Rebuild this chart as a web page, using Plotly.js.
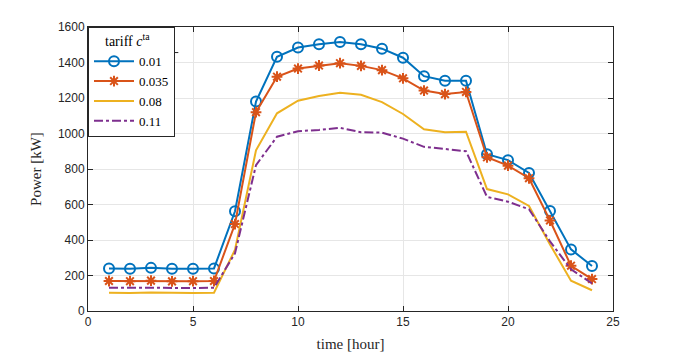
<!DOCTYPE html>
<html>
<head>
<meta charset="utf-8">
<script src="https://cdn.plot.ly/plotly-3.0.1.min.js"></script>
<style>body{margin:0;background:#fff}#grafico{width:677px;height:354px}</style>
</head>
<body>
<div id="grafico"></div>
<script>
// horas do dia
var hours = [1,2,3,4,5,6,7,8,9,10,11,12,13,14,15,16,17,18,19,20,21,22,23,24];
var tariffs = ["0.01", "0.035", "0.08", "0.11"];
// potencia [kW] para cada tarifa
var p001  = [240,238,243,238,238,240,562,1180,1432,1484,1503,1516,1503,1478,1427,1323,1297,1297,883,850,778,563,347,254];
var p0035 = [169,168,171,167,168,169,490,1120,1320,1366,1383,1396,1381,1357,1311,1242,1222,1234,866,819,748,510,255,180];
var p008  = [103,101,104,102,102,103,345,905,1114,1185,1211,1229,1218,1177,1110,1024,1007,1010,687,657,592,375,171,117];
var p011  = [131,130,131,129,130,131,325,822,982,1013,1020,1032,1007,1005,971,925,914,900,643,616,573,392,235,155];

var serif = "Liberation Serif";
var sans = "Liberation Sans";

var data = [
  {x: hours, y: p001, name: tariffs[0], mode: "lines+markers",
   line: {color: "#0072BD", width: 2},
   marker: {symbol: "circle-open", size: 10, color: "#0072BD", line: {width: 2, color: "#0072BD"}}},
  {x: hours, y: p0035, name: tariffs[1], mode: "lines+markers",
   line: {color: "#D95319", width: 2},
   marker: {symbol: "asterisk-open", size: 9, color: "#D95319", line: {width: 2, color: "#D95319"}}},
  {x: hours, y: p008, name: tariffs[2], mode: "lines",
   line: {color: "#EDB120", width: 2}},
  {x: hours, y: p011, name: tariffs[3], mode: "lines",
   line: {color: "#7E2F8E", width: 2, dash: "dashdot"}}
];

var eixo = {
  showline: true, linecolor: "#262626", linewidth: 1, mirror: "ticks",
  ticks: "inside", ticklen: 5, tickcolor: "#262626",
  showgrid: true, gridcolor: "#e6e6e6", zeroline: false,
  tickfont: {family: sans, size: 12, color: "#262626"}
};

var layout = {
  width: 677, height: 354,
  margin: {l: 88, r: 64, t: 27, b: 43},
  paper_bgcolor: "#fff", plot_bgcolor: "#fff",
  font: {family: serif, size: 13, color: "#000"},
  showlegend: true,
  xaxis: Object.assign({}, eixo, {range: [0, 25], dtick: 5,
    title: {text: "time [hour]", font: {family: serif, size: 15, color: "#262626"}, standoff: 10}}),
  yaxis: Object.assign({}, eixo, {range: [0, 1600], dtick: 200,
    title: {text: "Power [kW]", font: {family: serif, size: 15, color: "#262626"}, standoff: 12}}),
  legend: {
    x: 0, y: 1, xanchor: "left", yanchor: "top",
    bgcolor: "#fff", bordercolor: "#262626", borderwidth: 1,
    font: {family: serif, size: 13, color: "#000"},
    itemwidth: 40, tracegroupgap: 0,
    title: {text: "    tariff <i>c</i><sup>ta</sup>", side: "top", font: {family: serif, size: 14, color: "#000"}}
  },
  shapes: [
    {type: "line", xref: "paper", yref: "paper", x0: 0, x1: 0.172, y0: 0.91, y1: 0.91,
     line: {color: "#262626", width: 1}}
  ]
};

Plotly.newPlot("grafico", data, layout, {displayModeBar: false, staticPlot: true});
</script>
</body>
</html>
